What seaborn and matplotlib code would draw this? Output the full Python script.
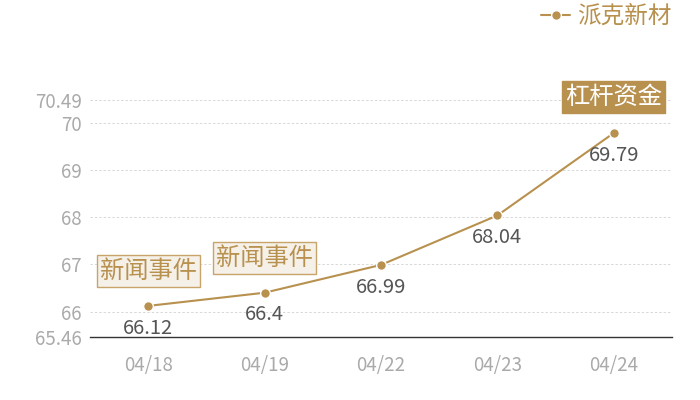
import pandas as pd
import seaborn as sns
import matplotlib.pyplot as plt

# data
dates = ['04/18', '04/19', '04/22', '04/23', '04/24']
prices = [66.12, 66.4, 66.99, 68.04, 69.79]
y_min, y_max = 65.46, 70.49
y_ticks = [65.46, 66, 67, 68, 69, 70, 70.49]
events = {0: '新闻事件', 1: '新闻事件', 4: '杠杆资金'}
series_name = '派克新材'

gold = '#b8914f'

sns.set_theme(style='white')
plt.rcParams['font.family'] = ['Noto Sans CJK SC', 'DejaVu Sans']

df = pd.DataFrame({'date': dates, 'price': prices, 'name': series_name})
df['x'] = range(len(df))

fig = plt.figure(figsize=(7, 4), dpi=100)
ax = fig.add_axes([0.1286, 0.1575, 0.8314, 0.5925])

sns.lineplot(data=df, x='x', y='price', ax=ax, color=gold, linewidth=1.5,
             marker='o', markersize=7, markeredgecolor='white', markeredgewidth=1,
             label=series_name)

ax.set_xlim(-0.5, len(dates) - 0.5)
ax.set_ylim(y_min, y_max)
ax.set_xticks(df['x'])
ax.set_xticklabels(dates)
ax.set_yticks(y_ticks)
ax.set_yticklabels([f'{t:g}' for t in y_ticks])
ax.tick_params(axis='both', length=0, labelsize=13.5, labelcolor='#aaaaaa')
ax.tick_params(axis='x', pad=13)
ax.tick_params(axis='y', pad=6)
ax.set_xlabel('')
ax.set_ylabel('')

for t in y_ticks[1:]:
    ax.axhline(t, color='#d8d8d8', linewidth=0.7, linestyle=(0, (2.5, 2)), zorder=0)

for s in ['top', 'right', 'left']:
    ax.spines[s].set_visible(False)
ax.spines['bottom'].set_color('#333333')
ax.spines['bottom'].set_linewidth(1)

# value labels
for x, v in zip(df['x'], prices):
    ax.annotate(f'{v:g}', (x, v), xytext=(0, -16), textcoords='offset points',
                ha='center', va='center', fontsize=14.5, color='#555555')

# event boxes
for i, txt in events.items():
    if txt == '杠杆资金':
        ax.annotate(txt, (i, prices[i]), xytext=(0, 26), textcoords='offset points',
                    ha='center', va='center', fontsize=17.5, color='white',
                    bbox=dict(boxstyle='square,pad=0.12', fc=gold, ec=gold),
                    annotation_clip=False)
    else:
        ax.annotate(txt, (i, prices[i]), xytext=(0, 25), textcoords='offset points',
                    ha='center', va='center', fontsize=17.5, color=gold,
                    bbox=dict(boxstyle='square,pad=0.12', fc='#f5f0e8', ec='#c9a46a', lw=1))

leg = ax.legend(loc='upper right', bbox_to_anchor=(1.015, 1.44), frameon=False,
                fontsize=17, handlelength=1.2, handletextpad=0.3, borderaxespad=0)
for t in leg.get_texts():
    t.set_color(gold)

fig.savefig('out.png', dpi=100)
